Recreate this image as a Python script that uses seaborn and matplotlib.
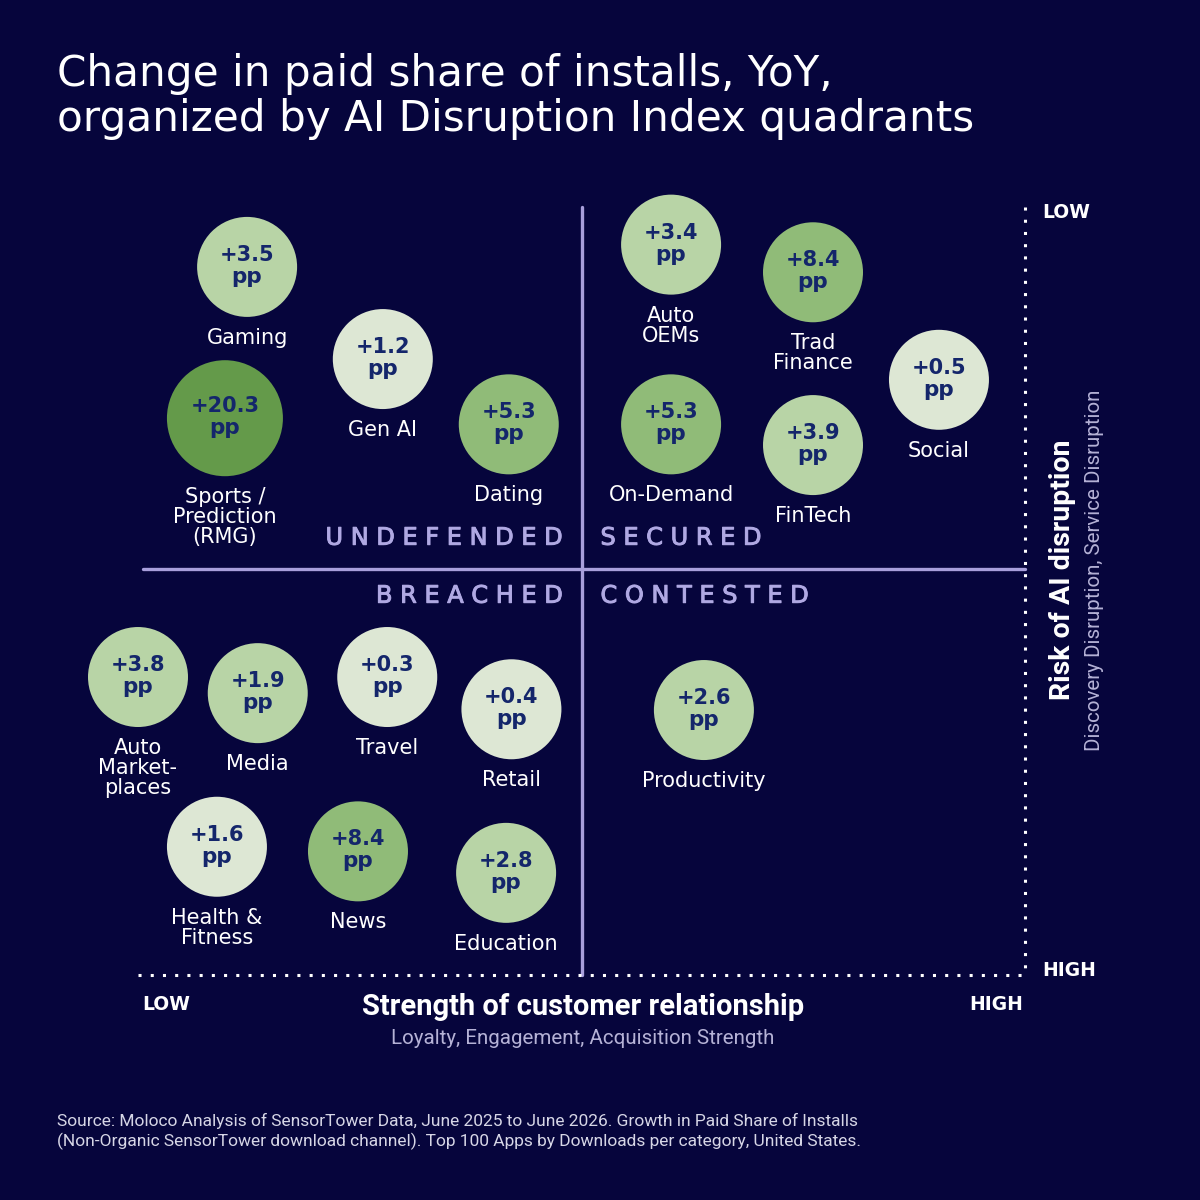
import matplotlib
matplotlib.use('Agg')
import matplotlib.pyplot as plt
import matplotlib.patheffects as pe
import seaborn as sns
import pandas as pd

# categories, their YoY change in paid share (pp) and quadrant scores
categories = ['Gaming', 'Gen AI', 'Sports /\nPrediction\n(RMG)', 'Dating',
              'Auto\nOEMs', 'Trad\nFinance', 'Social', 'On-Demand', 'FinTech',
              'Auto\nMarket-\nplaces', 'Media', 'Travel', 'Retail',
              'Productivity', 'Health &\nFitness', 'News', 'Education']
paid_share_change = [3.5, 1.2, 20.3, 5.3, 3.4, 8.4, 0.5, 5.3, 3.9,
                     3.8, 1.9, 0.3, 0.4, 2.6, 1.6, 8.4, 2.8]
# 0 = low, 100 = high
relationship_strength = [12.3, 27.6, 9.8, 41.8, 60.1, 76.1, 90.3, 60.1, 76.1,
                         0.0, 13.5, 28.1, 42.1, 63.8, 8.9, 24.8, 41.5]
# 0 = low risk (top), 100 = high risk (bottom)
ai_risk = [7.8, 19.8, 27.5, 28.3, 4.9, 8.5, 22.5, 28.3, 31.0,
           61.2, 63.3, 61.2, 65.4, 65.5, 83.3, 83.9, 86.7]

strength_mid = 50.0
risk_mid = 47.1

quadrant_names = ['UNDEFENDED', 'SECURED', 'BREACHED', 'CONTESTED']

tier_edges = [0, 1.8, 5, 10, 25]
tier_names = ['low', 'mid', 'high', 'top']

BG = '#06053c'
LAVENDER = '#a89fdc'
NAVY = '#14266b'
palette = {'low': '#dde7d4', 'mid': '#b8d4a6', 'high': '#90bb78', 'top': '#649a4a'}
radius_px = {'low': 50, 'mid': 50, 'high': 50, 'top': 58}
PT = 0.72  # points per pixel at dpi 100


def build_frame():
    df = pd.DataFrame({
        'category': categories,
        'change': paid_share_change,
        'strength': relationship_strength,
        'risk': ai_risk,
    })
    df['tier'] = pd.cut(df['change'], bins=tier_edges, labels=tier_names).astype(str)
    return df


def main():
    df = build_frame()
    sns.set_theme(style='white')
    plt.rcParams['font.family'] = ['DejaVu Sans']

    fig = plt.figure(figsize=(12, 12), dpi=100, facecolor=BG)
    ax = fig.add_axes([138 / 1200, 1 - 975 / 1200, 887 / 1200, 768 / 1200])
    ax.set_facecolor(BG)
    ax.set_xlim(0, 100)
    ax.set_ylim(100, 0)
    ax.axis('off')

    # dotted axes
    ax.plot([0, 100], [100, 100], color='white', lw=2.2,
            linestyle=(0, (1, 3)), clip_on=False, dash_capstyle='butt')
    ax.plot([100, 100], [0, 100], color='white', lw=2.2,
            linestyle=(0, (1, 3)), clip_on=False, dash_capstyle='butt')

    # quadrant dividers
    ax.plot([strength_mid, strength_mid], [0, 100], color=LAVENDER, lw=2.4,
            clip_on=False, zorder=1)
    ax.plot([0.6, 100], [risk_mid, risk_mid], color=LAVENDER, lw=2.4,
            clip_on=False, zorder=1)

    sizes = {k: (2 * r * PT) ** 2 for k, r in radius_px.items()}
    sns.scatterplot(data=df, x='strength', y='risk', hue='tier', size='tier',
                    palette=palette, sizes=sizes, legend=False,
                    edgecolor='none', linewidth=0, ax=ax, zorder=3)
    for coll in ax.collections:
        coll.set_clip_on(False)

    for _, row in df.iterrows():
        r = radius_px[row['tier']]
        ax.annotate(f"+{row['change']:.1f}", (row['strength'], row['risk']),
                    xytext=(0, 6 * PT), textcoords='offset points',
                    ha='center', va='baseline', fontsize=15,
                    fontweight='bold', color=NAVY, zorder=4)
        ax.annotate('pp', (row['strength'], row['risk']),
                    xytext=(0, -16 * PT), textcoords='offset points',
                    ha='center', va='baseline', fontsize=15.5,
                    fontweight='bold', color=NAVY, zorder=4)
        ax.annotate(row['category'], (row['strength'], row['risk']),
                    xytext=(0, -(r + 11) * PT), textcoords='offset points',
                    ha='center', va='top', fontsize=15, color='white',
                    linespacing=1.0, zorder=4)

    # quadrant names, letter-spaced
    offsets = [(-19, 31, 'right'), (19, 31, 'left'),
               (-19, -27, 'right'), (19, -27, 'left')]
    stroke = [pe.withStroke(linewidth=0.7, foreground='#b0a9e3')]
    for name, (dx, dy, ha) in zip(quadrant_names, offsets):
        ax.annotate(' '.join(name), (strength_mid, risk_mid),
                    xytext=(dx * PT, dy * PT), textcoords='offset points',
                    ha=ha, va='center', fontsize=17.3, color='#b0a9e3',
                    path_effects=stroke)

    # title
    fig.text(57 / 1200, 1 - 86 / 1200, 'Change in paid share of installs, YoY,',
             fontsize=30.3, color='white', va='baseline')
    fig.text(57 / 1200, 1 - 131 / 1200,
             'organized by AI Disruption Index quadrants',
             fontsize=30.3, color='white', va='baseline')

    # axis labels
    fig.text(166 / 1200, 1 - 1004 / 1200, 'LOW', fontsize=13.5, color='white',
             fontweight='bold', ha='center', va='center')
    fig.text(996 / 1200, 1 - 1004 / 1200, 'HIGH', fontsize=13.5, color='white',
             fontweight='bold', ha='center', va='center')
    fig.text(1042 / 1200, 1 - 213 / 1200, 'LOW', fontsize=13.5, color='white',
             fontweight='bold', ha='left', va='center')
    fig.text(1042 / 1200, 1 - 970 / 1200, 'HIGH', fontsize=13.5, color='white',
             fontweight='bold', ha='left', va='center')

    fig.text(583 / 1200, 1 - 1007 / 1200, 'Strength of customer relationship',
             family='Roboto', fontsize=21, fontweight='bold', color='white',
             ha='center', va='center')
    fig.text(583 / 1200, 1 - 1038 / 1200,
             'Loyalty, Engagement, Acquisition Strength', family='Roboto',
             fontsize=14.8, color='#b5b2d6', ha='center', va='center')
    fig.text(1063 / 1200, 1 - 570 / 1200, 'Risk of AI disruption',
             family='Roboto', fontsize=20.5, fontweight='bold', color='white',
             ha='center', va='center', rotation=90)
    fig.text(1094 / 1200, 1 - 570 / 1200,
             'Discovery Disruption, Service Disruption', family='Roboto',
             fontsize=14.8, color='#b5b2d6', ha='center', va='center',
             rotation=90)

    # source note
    fig.text(57 / 1200, 1 - 1121 / 1200,
             'Source: Moloco Analysis of SensorTower Data, June 2025 to June '
             '2026. Growth in Paid Share of Installs',
             family='Roboto', fontsize=12.5, color='#d6d6e6', va='center')
    fig.text(57 / 1200, 1 - 1141 / 1200,
             '(Non-Organic SensorTower download channel). Top 100 Apps by '
             'Downloads per category, United States.',
             family='Roboto', fontsize=12.5, color='#d6d6e6', va='center')

    fig.savefig('out.png', dpi=100, facecolor=BG)


if __name__ == '__main__':
    main()
